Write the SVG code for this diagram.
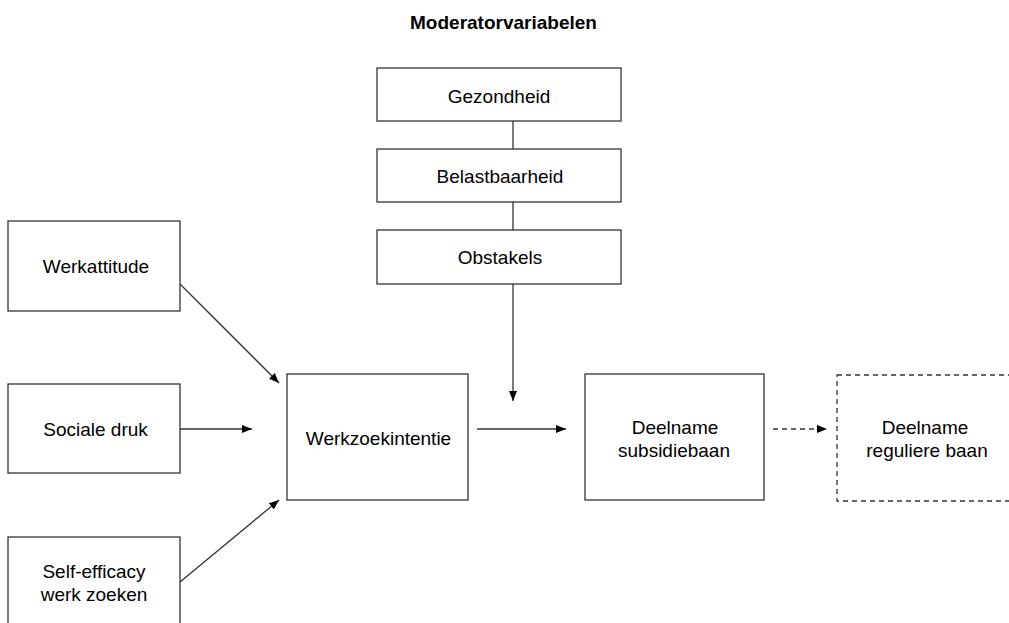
<svg xmlns="http://www.w3.org/2000/svg" width="1009" height="623" viewBox="0 0 1009 623">
<style>
.box{fill:#fff;stroke:#333;stroke-width:1.3}
.dash{fill:#fff;stroke:#333;stroke-width:1.3;stroke-dasharray:5,4}
.lbl{font-family:"Liberation Sans",Arial,sans-serif;font-size:19px;fill:#000;text-anchor:middle}
.title{font-family:"Liberation Sans",Arial,sans-serif;font-size:19px;font-weight:bold;fill:#000;text-anchor:middle}
.ln{stroke:#333;stroke-width:1.3;fill:none}
</style>
<defs>
<marker id="ah" markerWidth="10" markerHeight="8" refX="10" refY="4" orient="auto" markerUnits="userSpaceOnUse">
<path d="M0,0 L10,4 L0,8 Z" fill="#000"/>
</marker>
</defs>
<rect width="1009" height="623" fill="#fff"/>
<text class="title" x="503.5" y="29">Moderatorvariabelen</text>
<g id="connectors">
<line class="ln" x1="513" y1="121" x2="513" y2="149"/>
<line class="ln" x1="513" y1="202" x2="513" y2="230"/>
<line class="ln" x1="513" y1="284" x2="513" y2="401" marker-end="url(#ah)"/>
<line class="ln" x1="180" y1="284" x2="279" y2="383" marker-end="url(#ah)"/>
<line class="ln" x1="180" y1="429" x2="252" y2="429" marker-end="url(#ah)"/>
<line class="ln" x1="180" y1="582" x2="279" y2="500" marker-end="url(#ah)"/>
<line class="ln" x1="477" y1="429" x2="566" y2="429" marker-end="url(#ah)"/>
<line class="ln" x1="773" y1="429" x2="827" y2="429" stroke-dasharray="5,4" marker-end="url(#ah)"/>
</g>
<g id="gezondheid"><rect class="box" x="377" y="68" width="244" height="53"/><text class="lbl" x="499" y="103">Gezondheid</text></g>
<g id="belastbaarheid"><rect class="box" x="377" y="149" width="244" height="53"/><text class="lbl" x="500" y="183">Belastbaarheid</text></g>
<g id="obstakels"><rect class="box" x="377" y="230" width="244" height="54"/><text class="lbl" x="500" y="264">Obstakels</text></g>
<g id="werkattitude"><rect class="box" x="8" y="221" width="172" height="90"/><text class="lbl" x="96" y="273">Werkattitude</text></g>
<g id="socialedruk"><rect class="box" x="8" y="384" width="172" height="89"/><text class="lbl" x="95.5" y="436">Sociale druk</text></g>
<g id="selfefficacy"><rect class="box" x="8" y="537" width="172" height="100"/><text class="lbl" x="94" y="578">Self-efficacy</text><text class="lbl" x="94" y="601">werk zoeken</text></g>
<g id="werkzoekintentie"><rect class="box" x="287" y="374" width="181" height="126"/><text class="lbl" x="378.5" y="445">Werkzoekintentie</text></g>
<g id="subsidiebaan"><rect class="box" x="585" y="374" width="179" height="126"/><text class="lbl" x="675" y="434">Deelname</text><text class="lbl" x="674" y="457">subsidiebaan</text></g>
<g id="regulierebaan"><rect class="dash" x="837" y="375" width="190" height="126"/><text class="lbl" x="925" y="434">Deelname</text><text class="lbl" x="927" y="457">reguliere baan</text></g>
</svg>
